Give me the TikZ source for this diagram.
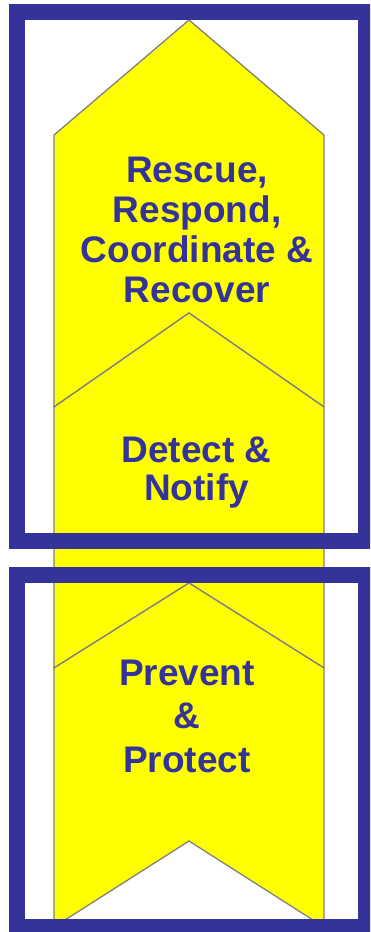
\documentclass[tikz,border=0pt]{standalone}
\usepackage{fontspec}
\setmainfont{Liberation Sans}
\usepackage{tikz}
\usetikzlibrary{positioning}
\definecolor{frameblue}{RGB}{51,51,153}
\definecolor{chevyellow}{RGB}{255,255,0}
\definecolor{chevgray}{RGB}{128,128,128}
\tikzset{
  chevron/.style={fill=chevyellow,draw=chevgray,line width=1.3pt,line join=miter},
  frame/.style={draw=frameblue,line width=16pt},
  lbl/.style={font=\bfseries\fontsize{37}{40}\selectfont,text=frameblue,
    align=center,inner sep=0pt}
}

\begin{document}
\begin{tikzpicture}[x=1pt,y=-1pt]
\useasboundingbox (0,0) rectangle (370,932);
\clip (0,0) rectangle (370,932);
% chevrons, back to front
\draw[chevron] (189,20) -- (324,135) -- (324,407) -- (189,313) -- (54,407) -- (54,135) -- cycle;
\draw[chevron] (189,313) -- (324,407) -- (324,668) -- (189,583) -- (54,668) -- (54,407) -- cycle;
\draw[chevron] (189,583) -- (324,668) -- (324,927) -- (189,841) -- (54,927) -- (54,668) -- cycle;
% frames
\draw[frame] (17,12) rectangle (366,541);
\draw[frame] (17,575) rectangle (366,927);
% labels
\node[lbl] (rescue) at (197,230) {Rescue,\\Respond,\\Coordinate \&\\Recover};
\node[lbl,font=\bfseries\fontsize{37}{38}\selectfont] (detect) at (196.5,473) {Detect \&\\Notify};
\node[lbl,font=\bfseries\fontsize{37}{43.5}\selectfont] (prevent) at (187,716) {Prevent\\\&\\Protect};
\end{tikzpicture}
\end{document}
